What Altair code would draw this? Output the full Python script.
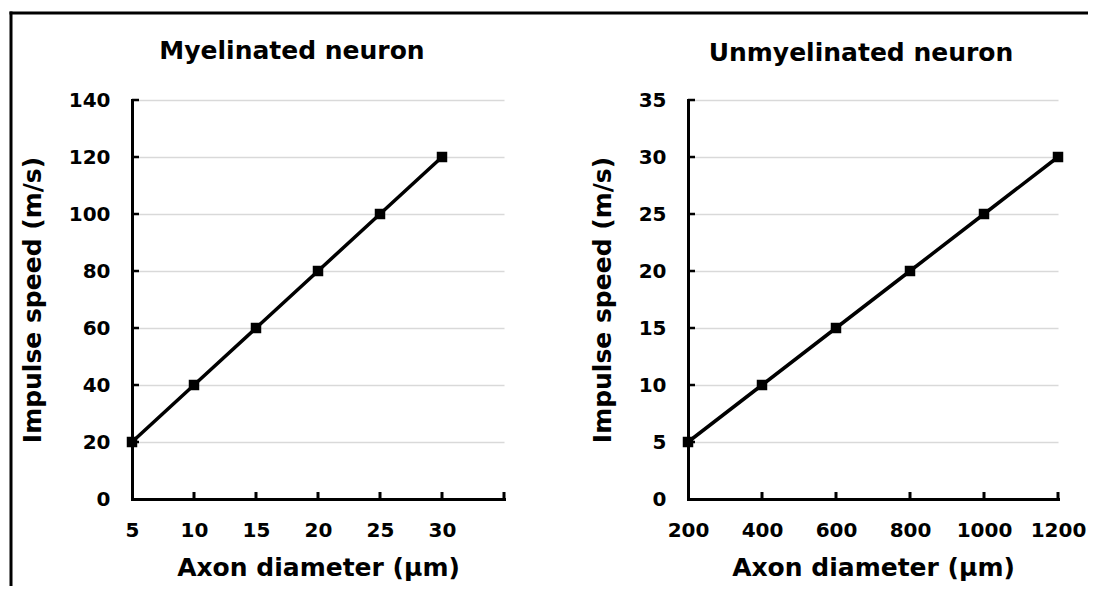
import altair as alt
import pandas as pd

# ---- data ----
my_diam = [5, 10, 15, 20, 25, 30]
my_speed = [20, 40, 60, 80, 100, 120]
un_diam = [200, 400, 600, 800, 1000, 1200]
un_speed = [5, 10, 15, 20, 25, 30]

my_xlabels = [5, 10, 15, 20, 25, 30]
my_xtickmarks = [10, 15, 20, 25, 30, 35]
my_yticks = [0, 20, 40, 60, 80, 100, 120, 140]
un_xlabels = [200, 400, 600, 800, 1000, 1200]
un_xtickmarks = [400, 600, 800, 1000, 1200]
un_yticks = [0, 5, 10, 15, 20, 25, 30, 35]

titles = ["Myelinated neuron", "Unmyelinated neuron"]
x_title = "Axon diameter (µm)"
y_title = "Impulse speed (m/s)"

FONT = "DejaVu Sans"
W1, W2, H = 372, 370, 399


def panel(xs, ys, xdom, ydom, xlabels, xtickmarks, yticks, title, w, dx,
          frame_x1, frame_x2, left_edge):
    df = pd.DataFrame({"x": xs, "y": ys})
    xscale = alt.Scale(domain=xdom, nice=False, zero=False)
    yscale = alt.Scale(domain=ydom, nice=False, zero=True)
    xaxis = alt.Axis(values=xlabels, title=x_title, grid=False, labelPadding=21,
                     titlePadding=15, format="d")
    yaxis = alt.Axis(values=yticks, title=y_title, grid=True, labelPadding=22,
                     titlePadding=23, format="d")
    line = alt.Chart(df).mark_line(color="black", strokeWidth=3.5).encode(
        x=alt.X("x:Q", scale=xscale, axis=xaxis),
        y=alt.Y("y:Q", scale=yscale, axis=yaxis),
    )
    pts = alt.Chart(df).mark_point(shape="square", filled=True, size=110,
                                   color="black", opacity=1).encode(
        x=alt.X("x:Q", scale=xscale),
        y=alt.Y("y:Q", scale=yscale),
    )
    xt = alt.Chart(pd.DataFrame({"x": xtickmarks})).mark_rule(
        color="black", strokeWidth=3).encode(
        x=alt.X("x:Q", scale=xscale),
        y=alt.value(H), y2=alt.value(H - 7),
    )
    yt = alt.Chart(pd.DataFrame({"y": yticks[1:]})).mark_rule(
        color="black", strokeWidth=2.5).encode(
        y=alt.Y("y:Q", scale=yscale),
        x=alt.value(0), x2=alt.value(7),
    )
    one = pd.DataFrame({"k": [0]})
    top = alt.Chart(one).mark_rule(color="black", strokeWidth=3).encode(
        x=alt.value(frame_x1), x2=alt.value(frame_x2), y=alt.value(-87))
    layers = [top, line, pts, xt, yt]
    if left_edge:
        side = alt.Chart(one).mark_rule(color="black", strokeWidth=3).encode(
            x=alt.value(-121), y=alt.value(-88.5), y2=alt.value(486))
        layers.insert(0, side)
    return alt.layer(*layers).properties(
        width=w, height=H,
        title=alt.TitleParams(title, font=FONT, fontSize=25, fontWeight="bold",
                              color="black", anchor="middle", frame="group",
                              dx=dx, offset=-74, baseline="alphabetic"),
    )


left = panel(my_diam, my_speed, [5, 35], [0, 140], my_xlabels, my_xtickmarks,
             my_yticks, titles[0], W1, -26, -122.5, W1 + 92, True)
right = panel(un_diam, un_speed, [200, 1200], [0, 35], un_xlabels, un_xtickmarks,
              un_yticks, titles[1], W2, -12, -92, 400, False)

chart = alt.hconcat(left, right, spacing=184, bounds="flush").properties(
    padding={"left": 0, "top": 2, "right": 0, "bottom": 0},
    background="white",
).configure_view(stroke=None).configure_axis(
    labelFont=FONT, labelFontSize=20, labelFontWeight="bold", labelColor="black",
    titleFont=FONT, titleFontSize=25, titleFontWeight="bold", titleColor="black",
    domainColor="black", domainWidth=3, domainCap="square",
    ticks=False, tickSize=0, gridColor="#d9d9d9", gridWidth=1.5,
    labelFlush=False, labelOverlap=False,
)

chart.save("out.html", embed_options={"renderer": "svg", "actions": False})
